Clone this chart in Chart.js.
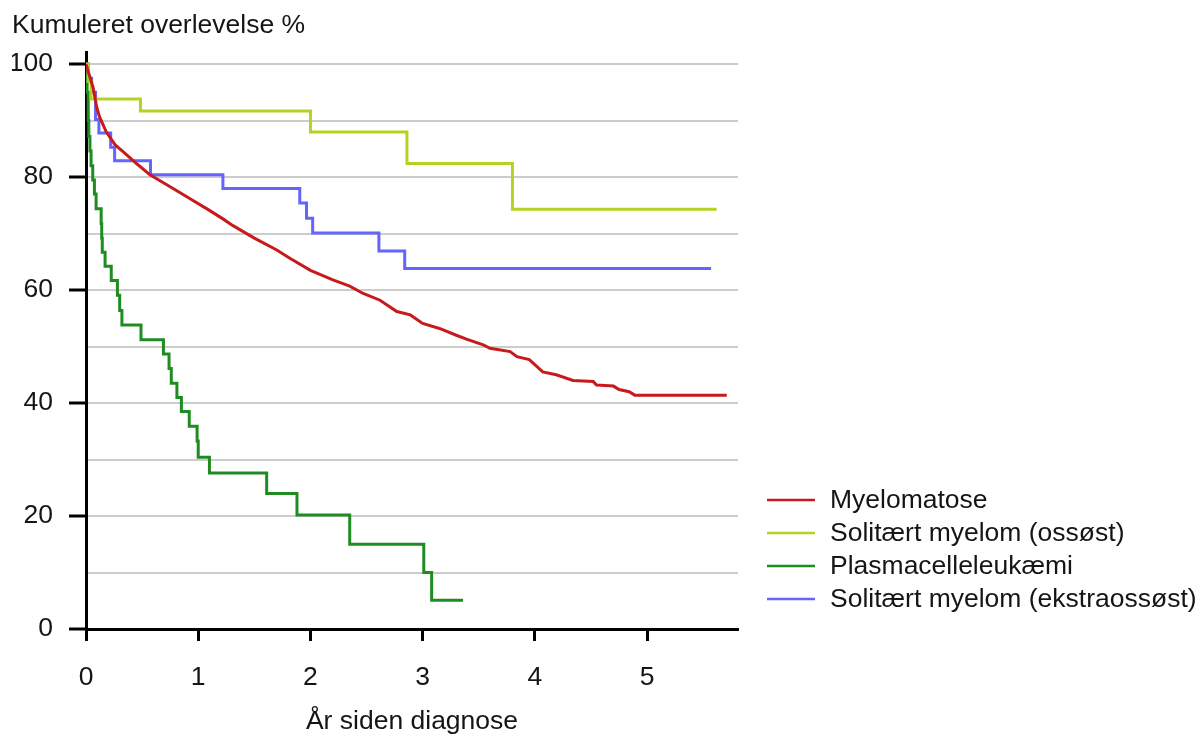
<!DOCTYPE html>
<html>
<head>
<meta charset="utf-8">
<title>Kumuleret overlevelse</title>
<script src="https://cdn.jsdelivr.net/npm/chart.js@4.4.1/dist/chart.umd.min.js"></script>
<style>
  html, body { margin: 0; padding: 0; background: #fff; }
  canvas { display: block; }
</style>
</head>
<body>
<canvas id="kmChart" width="1203" height="740"></canvas>
<script>
// series names, in legend order
const seriesNames = ['Myelomatose', 'Solitært myelom (ossøst)', 'Plasmacelleleukæmi', 'Solitært myelom (ekstraossøst)'];
const seriesColors = ['#c8191c', '#b3d322', '#1f8c22', '#6464ff'];

// Myelomatose
const myelomatoseYears = [0, 0.02, 0.065, 0.095, 0.12, 0.18, 0.26, 0.33, 0.45, 0.57, 0.75, 0.95, 1.1, 1.22, 1.31, 1.5, 1.7, 1.82, 2.0, 2.2, 2.35, 2.47, 2.62, 2.77, 2.89, 3.0, 3.15, 3.3, 3.39, 3.54, 3.6, 3.78, 3.84, 3.95, 4.07, 4.19, 4.34, 4.52, 4.55, 4.7, 4.75, 4.84, 4.89, 5.71];
const myelomatoseSurv = [100, 98.7, 95.7, 92.4, 90.7, 88.0, 85.7, 84.5, 82.4, 80.4, 78.3, 75.9, 74.1, 72.6, 71.4, 69.2, 67.1, 65.6, 63.5, 61.8, 60.7, 59.4, 58.2, 56.2, 55.6, 54.1, 53.2, 52.0, 51.3, 50.3, 49.7, 49.1, 48.2, 47.7, 45.5, 45.0, 44.0, 43.8, 43.2, 43.0, 42.4, 42.0, 41.4, 41.4];

// Solitært myelom (ossøst)
const ossoestYears = [0, 0.02, 0.045, 0.485, 2.0, 2.86, 3.8, 5.62];
const ossoestSurv = [100, 96.9, 93.8, 91.7, 88.0, 82.4, 74.3, 74.3];

// Plasmacelleleukæmi
const plasmaYears = [0, 0.01, 0.02, 0.025, 0.035, 0.045, 0.06, 0.075, 0.09, 0.135, 0.14, 0.145, 0.17, 0.225, 0.28, 0.3, 0.32, 0.49, 0.69, 0.74, 0.76, 0.81, 0.85, 0.92, 0.99, 1.0, 1.1, 1.61, 1.88, 2.35, 3.01, 3.08, 3.36];
const plasmaSurv = [100, 95, 90, 87.2, 84.6, 82, 79.5, 77, 74.4, 71.8, 69.2, 66.7, 64.2, 61.7, 59.1, 56.4, 53.8, 51.2, 48.7, 46.1, 43.5, 41.0, 38.5, 35.9, 33.3, 30.4, 27.6, 24.0, 20.2, 15.0, 10.0, 5.1, 5.1];

// Solitært myelom (ekstraossøst)
const ekstraYears = [0, 0.02, 0.05, 0.085, 0.115, 0.22, 0.255, 0.575, 1.22, 1.905, 1.965, 2.02, 2.61, 2.84, 5.57];
const ekstraSurv = [100, 97.5, 95.0, 90.2, 87.8, 85.3, 82.9, 80.4, 78.0, 75.4, 72.7, 70.1, 66.9, 63.8, 63.8];

const xTickStep = 1;
const yTickStep = 10;
const yLabelStep = 20;

function toPoints(xs, ys) {
    return xs.map((x, i) => ({ x: x, y: ys[i] }));
}

const FONT = '"Liberation Sans", Arial, sans-serif';
const FONT_SIZE = 26.5;
const TEXT = '#151515';
Chart.defaults.font.family = FONT;

// simple legend at the lower right, drawn like short line samples
const lineLegend = {
    id: 'lineLegend',
    afterDraw(chart) {
        const ctx = chart.ctx;
        const area = chart.chartArea;
        const x0 = area.right + 29;
        const y0 = area.bottom - 129;
        ctx.save();
        ctx.font = FONT_SIZE + 'px ' + FONT;
        ctx.textBaseline = 'middle';
        chart.data.datasets.forEach((ds, i) => {
            const y = y0 + i * 33;
            ctx.strokeStyle = ds.borderColor;
            ctx.lineWidth = 2.5;
            ctx.beginPath();
            ctx.moveTo(x0, y);
            ctx.lineTo(x0 + 48, y);
            ctx.stroke();
            ctx.fillStyle = TEXT;
            ctx.fillText(ds.label, x0 + 63, y + 1);
        });
        ctx.restore();
    }
};

const datasets = [
    { label: seriesNames[0], data: toPoints(myelomatoseYears, myelomatoseSurv), borderColor: seriesColors[0], stepped: false },
    { label: seriesNames[1], data: toPoints(ossoestYears, ossoestSurv), borderColor: seriesColors[1], stepped: true },
    { label: seriesNames[2], data: toPoints(plasmaYears, plasmaSurv), borderColor: seriesColors[2], stepped: true },
    { label: seriesNames[3], data: toPoints(ekstraYears, ekstraSurv), borderColor: seriesColors[3], stepped: true }
].map(d => Object.assign(d, { borderWidth: 3, pointRadius: 0, fill: false, tension: 0 }));

new Chart(document.getElementById('kmChart'), {
    type: 'line',
    data: { datasets: datasets },
    options: {
        responsive: false,
        animation: false,
        layout: { padding: { left: 12, top: 0, right: 465, bottom: 0 } },
        scales: {
            x: {
                type: 'linear',
                min: 0,
                max: 5.81,
                afterFit: s => { s.height = 111; },
                ticks: { stepSize: xTickStep, includeBounds: false, color: TEXT, font: { size: FONT_SIZE }, padding: 21, maxRotation: 0 },
                grid: { drawOnChartArea: false, drawTicks: true, tickLength: 12, tickColor: '#000', tickWidth: 3 },
                border: { color: '#000', width: 3 },
                title: { display: true, text: 'År siden diagnose', color: TEXT, font: { size: FONT_SIZE }, padding: { top: 0, bottom: 2 } }
            },
            y: {
                min: 0,
                max: 102,
                afterFit: s => { s.width = 74; },
                ticks: {
                    stepSize: yTickStep,
                    includeBounds: false,
                    color: TEXT,
                    font: { size: FONT_SIZE },
                    padding: 16,
                    callback: v => (v % yLabelStep === 0 ? v : '')
                },
                grid: {
                    color: c => (c.tick && c.tick.value === 0 ? 'rgba(0,0,0,0)' : '#cccccc'),
                    lineWidth: 2,
                    tickLength: 17,
                    tickWidth: 3,
                    tickColor: c => (c.tick && c.tick.value % yLabelStep === 0 ? '#000' : 'rgba(0,0,0,0)')
                },
                border: { color: '#000', width: 3 }
            }
        },
        plugins: {
            legend: { display: false },
            tooltip: { enabled: false },
            title: {
                display: true,
                text: 'Kumuleret overlevelse %',
                align: 'start',
                color: TEXT,
                font: { size: FONT_SIZE, weight: 'normal' },
                padding: { top: 10, bottom: 11 }
            }
        }
    },
    plugins: [lineLegend]
});
</script>
</body>
</html>
